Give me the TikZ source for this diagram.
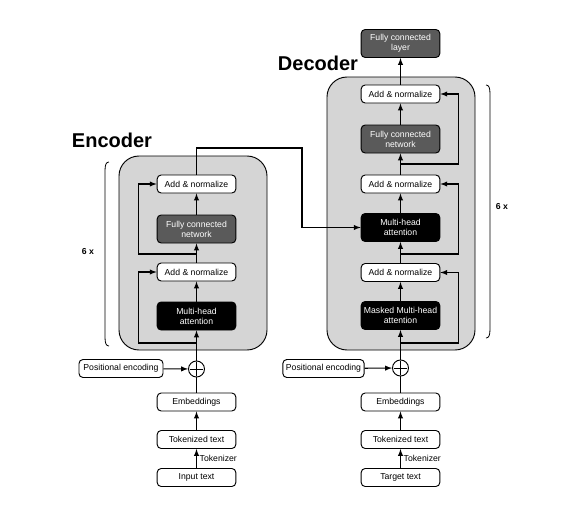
\documentclass[tikz,border=0pt]{standalone}
\usepackage{fontspec}
\setmainfont{Liberation Sans}
\usepackage{tikz}
\usetikzlibrary{arrows,calc}

\definecolor{layergray}{HTML}{D5D5D5}
\definecolor{fcgray}{HTML}{5A5A5A}

\tikzset{
  blk/.style={draw,rounded corners=3pt,inner sep=0pt,minimum width=59pt,minimum height=13.5pt,
    align=center,fill=white,line width=0.7pt,font=\fontsize{6.5}{7.5}\selectfont},
  fcblk/.style={blk,fill=fcgray,text=white,minimum height=21pt},
  attblk/.style={blk,fill=black,text=white,minimum height=21pt},
  addop/.style={circle,draw,fill=white,minimum size=12pt,inner sep=0pt,line width=0.7pt,
    path picture={\draw[line width=0.7pt] ([yshift=5pt]path picture bounding box.center) -- ([yshift=-5pt]path picture bounding box.center)
      ([xshift=-5pt]path picture bounding box.center) -- ([xshift=5pt]path picture bounding box.center);}},
  layer/.style={draw,fill=layergray,rounded corners=15pt,line width=0.7pt},
  title/.style={font=\fontsize{15}{17}\selectfont\bfseries},
  lbl/.style={font=\fontsize{6.5}{7.5}\selectfont}
}

\begin{document}
\begin{tikzpicture}[x=0.75pt,y=-0.75pt,>=latex,line width=0.8pt]
\useasboundingbox (0,0) rectangle (562,508);

	% layers
	\draw[layer] (119,156) rectangle (267,350);
	\draw[layer] (327,77) rectangle (475,350);

	\node[title] (eTitle) at (112,140) {Encoder};
	\node[title] (dTitle) at (318,63) {Decoder};

	% encoder
	\node[blk] (eAn1) at (196.5,184) {Add \& normalize};
	\node[fcblk] (eFcn) at (196.5,229) {Fully connected\\network};
	\node[blk] (eAn2) at (196.5,272) {Add \& normalize};
	\node[attblk] (eMha) at (196.5,316) {Multi-head\\attention};
	\node[addop] (ePlus) at (196.5,369) {};
	\node[blk,minimum width=63pt] (ePos) at (121,368.5) {Positional encoding};
	\node[blk] (eEmb) at (196.5,402) {Embeddings};
	\node[blk] (eTok) at (196.5,439.5) {Tokenized text};
	\node[blk] (eIn) at (196.5,477.5) {Input text};

	% decoder
	\node[fcblk] (dFcl) at (400.5,43.5) {Fully connected\\layer};
	\node[blk] (dAn1) at (400.5,94) {Add \& normalize};
	\node[fcblk] (dFcn) at (400.5,139) {Fully connected\\network};
	\node[blk] (dAn2) at (400.5,184) {Add \& normalize};
	\node[attblk] (dMha) at (400.5,227.5) {Multi-head\\attention};
	\node[blk] (dAn3) at (400.5,272.5) {Add \& normalize};
	\node[attblk] (dMsk) at (400.5,315.5) {Masked Multi-head\\attention};
	\node[addop] (dPlus) at (400.5,368) {};
	\node[blk,minimum width=61pt] (dPos) at (323.5,368.5) {Positional encoding};
	\node[blk] (dEmb) at (400.5,402) {Embeddings};
	\node[blk] (dTok) at (400.5,439.5) {Tokenized text};
	\node[blk] (dTgt) at (400.5,477.5) {Target text};

	% 6 x
	\draw[line width=0.6pt] (109,162) .. controls (106,162) and (105,165) .. (105,171) -- (105,337) .. controls (105,343) and (106,346) .. (109,346);
	\node[lbl,font=\fontsize{6.5}{7.5}\selectfont\bfseries] (eRep) at (88,252) {6 x};
	\draw[line width=0.6pt] (486,85) .. controls (489,85) and (490,88) .. (490,94) -- (490,329) .. controls (490,335) and (489,338) .. (486,338);
	\node[lbl,font=\fontsize{6.5}{7.5}\selectfont\bfseries] (dRep) at (502,207) {6 x};

	\coordinate (eR1) at (196.5,343);
	\coordinate (eR2) at (196.5,254);
	\coordinate (dR1) at (400.5,343);
	\coordinate (dR2) at (400.5,254);
	\coordinate (dR3) at (400.5,164);
	\coordinate (eOut) at (302,148);

	\draw[->] (eIn) -- node[lbl,right,inner sep=2pt] {Tokenizer} (eTok);
	\draw[->] (eTok) -- (eEmb);
	\draw (eEmb) -- (ePlus);
	\draw[->] (ePos) -- (ePlus);
	\draw[->] (ePlus) -- (eMha);
	\draw[->] (eMha) -- (eAn2);
	\draw[->] (eAn2) -- (eFcn);
	\draw[->] (eFcn) -- (eAn1);
	\draw[->] (eR1) -| ($(eAn2.west)+(-18,0)$) -- (eAn2.west);
	\draw[->] (eR2) -| ($(eAn1.west)+(-18,0)$) -- (eAn1.west);
	\draw[->] (eAn1) |- (eOut) |- (dMha);

	\draw[->] (dTgt) -- node[lbl,right,inner sep=2pt] {Tokenizer} (dTok);
	\draw[->] (dTok) -- (dEmb);
	\draw (dEmb) -- (dPlus);
	\draw[->] (dPos) -- (dPlus);
	\draw[->] (dPlus) -- (dMsk);
	\draw[->] (dMsk) -- (dAn3);
	\draw[->] (dAn3) -- (dMha);
	\draw[->] (dMha) -- (dAn2);
	\draw[->] (dAn2) -- (dFcn);
	\draw[->] (dFcn) -- (dAn1);
	\draw[->] (dAn1) -- (dFcl);
	\draw[->] (dR1) -| ($(dAn3.east)+(18,0)$) -- (dAn3.east);
	\draw[->] (dR2) -| ($(dAn2.east)+(18,0)$) -- (dAn2.east);
	\draw[->] (dR3) -| ($(dAn1.east)+(18,0)$) -- (dAn1.east);
\end{tikzpicture}
\end{document}
